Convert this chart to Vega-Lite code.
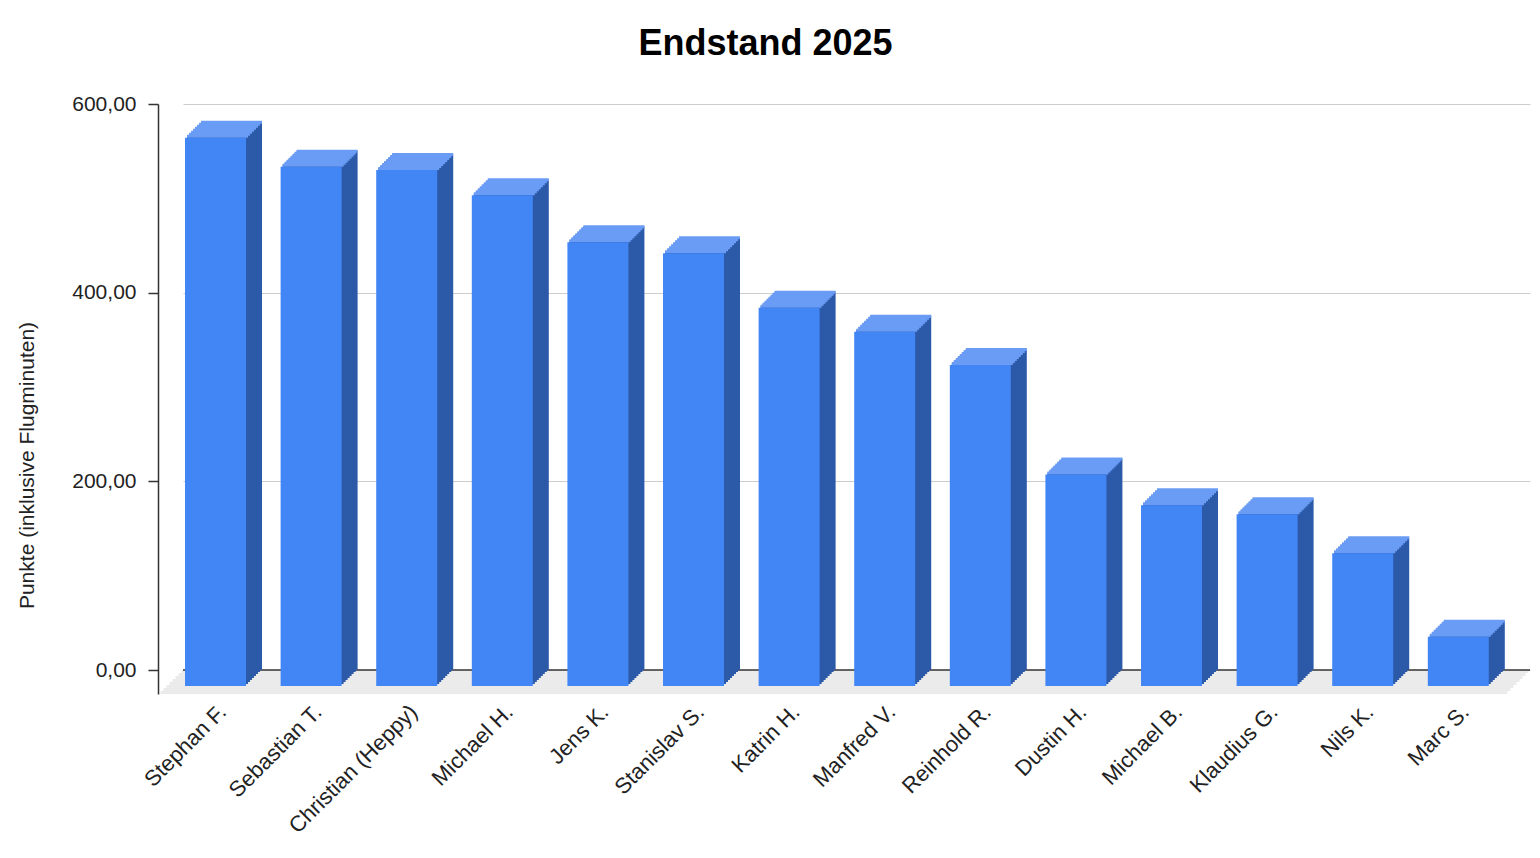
{
  "$schema": "https://vega.github.io/schema/vega-lite/v6.json",
  "width": 1347,
  "height": 590,
  "autosize": {"type": "none"},
  "padding": {"left": 183, "top": 104, "right": 10, "bottom": 164},
  "background": "white",
  "title": {
    "text": "Endstand 2025",
    "fontSize": 36,
    "fontWeight": "bold",
    "color": "#000000",
    "anchor": "middle",
    "frame": "group",
    "dx": -91,
    "offset": 30
  },
  "data": {
    "values": [
      {"name": "Stephan F.", "punkte": 581.3},
      {"name": "Sebastian T.", "punkte": 550.5},
      {"name": "Christian (Heppy)", "punkte": 547.0},
      {"name": "Michael H.", "punkte": 520.2},
      {"name": "Jens K.", "punkte": 470.4},
      {"name": "Stanislav S.", "punkte": 458.7},
      {"name": "Katrin H.", "punkte": 401.1},
      {"name": "Manfred V.", "punkte": 375.4},
      {"name": "Reinhold R.", "punkte": 340.3},
      {"name": "Dustin H.", "punkte": 224.1},
      {"name": "Michael B.", "punkte": 191.5},
      {"name": "Klaudius G.", "punkte": 182.0},
      {"name": "Nils K.", "punkte": 140.7},
      {"name": "Marc S.", "punkte": 52.3}
    ]
  },
  "resolve": {"scale": {"x": "independent"}},
  "layer": [
    {
      "data": {"values": [{}]},
      "encoding": {
        "x": {"datum": 0, "type": "quantitative", "scale": {"domain": [0, 1]}, "axis": null},
        "x2": {"datum": 1},
        "y": {"datum": 0, "type": "quantitative"},
        "y2": {"datum": -3.2}
      },
      "layer": [
        {"mark": {"type": "rect", "color": "#ebebeb", "xOffset": -1.5, "x2Offset": -1.5, "yOffset": 0, "y2Offset": 0}},
        {"mark": {"type": "rect", "color": "#ebebeb", "xOffset": -4.5, "x2Offset": -4.5, "yOffset": 3, "y2Offset": 3}},
        {"mark": {"type": "rect", "color": "#ebebeb", "xOffset": -7.5, "x2Offset": -7.5, "yOffset": 6, "y2Offset": 6}},
        {"mark": {"type": "rect", "color": "#ebebeb", "xOffset": -10.5, "x2Offset": -10.5, "yOffset": 9, "y2Offset": 9}},
        {"mark": {"type": "rect", "color": "#ebebeb", "xOffset": -13.5, "x2Offset": -13.5, "yOffset": 12, "y2Offset": 12}},
        {"mark": {"type": "rect", "color": "#ebebeb", "xOffset": -16.5, "x2Offset": -16.5, "yOffset": 15, "y2Offset": 15}},
        {"mark": {"type": "rect", "color": "#ebebeb", "xOffset": -19.5, "x2Offset": -19.5, "yOffset": 18, "y2Offset": 18}},
        {"mark": {"type": "rect", "color": "#ebebeb", "xOffset": -22.5, "x2Offset": -22.5, "yOffset": 21, "y2Offset": 21}}
      ]
    },
    {
      "data": {"values": [{}]},
      "mark": {"type": "rule", "color": "#333333", "strokeWidth": 1.5},
      "encoding": {"y": {"datum": 0, "type": "quantitative"}}
    },
    {
      "encoding": {
        "x": {
          "field": "name",
          "type": "nominal",
          "sort": null,
          "scale": {"paddingInner": 0.362, "paddingOuter": 0.226, "align": 0.417},
          "axis": {
            "title": null,
            "labelAngle": -45,
            "labelFontSize": 22,
            "labelColor": "#222222",
            "labelOffset": -16,
            "labelPadding": 7,
            "labelLimit": 300,
            "labelOverlap": false,
            "domain": false,
            "ticks": false,
            "grid": false
          }
        },
        "y": {
          "field": "punkte",
          "type": "quantitative",
          "scale": {"domain": [-25.44, 600], "nice": false, "zero": false},
          "axis": {
            "title": "Punkte (inklusive Flugminuten)",
            "values": [0, 200, 400, 600],
            "labelExpr": "replace(format(datum.value, '.2f'), '.', ',')",
            "labelFontSize": 21,
            "labelColor": "#222222",
            "labelPadding": 12,
            "tickSize": 10,
            "tickColor": "#333333",
            "tickWidth": 1.5,
            "domainColor": "#333333",
            "domainWidth": 1.5,
            "offset": 25,
            "grid": true,
            "gridColor": "#cccccc",
            "gridWidth": 1,
            "titleFontSize": 21,
            "titleFontWeight": "normal",
            "titleColor": "#222222",
            "titleAngle": -90,
            "titleX": -131,
            "titleY": 361,
            "titleAlign": "center",
            "titleBaseline": "middle"
          }
        }
      },
      "layer": [
        {
          "encoding": {"y2": {"datum": 0}},
          "layer": [
            {"mark": {"type": "bar", "color": "#2c5aa8", "xOffset": 0, "yOffset": 0, "y2Offset": 0}},
            {"mark": {"type": "bar", "color": "#2c5aa8", "xOffset": -2, "yOffset": 2, "y2Offset": 2}},
            {"mark": {"type": "bar", "color": "#2c5aa8", "xOffset": -4, "yOffset": 4, "y2Offset": 4}},
            {"mark": {"type": "bar", "color": "#2c5aa8", "xOffset": -6, "yOffset": 6, "y2Offset": 6}},
            {"mark": {"type": "bar", "color": "#2c5aa8", "xOffset": -8, "yOffset": 8, "y2Offset": 8}},
            {"mark": {"type": "bar", "color": "#2c5aa8", "xOffset": -10, "yOffset": 10, "y2Offset": 10}},
            {"mark": {"type": "bar", "color": "#2c5aa8", "xOffset": -12, "yOffset": 12, "y2Offset": 12}},
            {"mark": {"type": "bar", "color": "#2c5aa8", "xOffset": -14, "yOffset": 14, "y2Offset": 14}}
          ]
        },
        {"mark": {"type": "tick", "color": "#6a9cf5", "opacity": 1, "size": 61, "thickness": 3, "xOffset": 0, "yOffset": 0.5}},
        {"mark": {"type": "tick", "color": "#6a9cf5", "opacity": 1, "size": 61, "thickness": 3, "xOffset": -2, "yOffset": 2.5}},
        {"mark": {"type": "tick", "color": "#6a9cf5", "opacity": 1, "size": 61, "thickness": 3, "xOffset": -4, "yOffset": 4.5}},
        {"mark": {"type": "tick", "color": "#6a9cf5", "opacity": 1, "size": 61, "thickness": 3, "xOffset": -6, "yOffset": 6.5}},
        {"mark": {"type": "tick", "color": "#6a9cf5", "opacity": 1, "size": 61, "thickness": 3, "xOffset": -8, "yOffset": 8.5}},
        {"mark": {"type": "tick", "color": "#6a9cf5", "opacity": 1, "size": 61, "thickness": 3, "xOffset": -10, "yOffset": 10.5}},
        {"mark": {"type": "tick", "color": "#6a9cf5", "opacity": 1, "size": 61, "thickness": 3, "xOffset": -12, "yOffset": 12.5}},
        {"mark": {"type": "tick", "color": "#6a9cf5", "opacity": 1, "size": 61, "thickness": 3, "xOffset": -14, "yOffset": 14.5}},
        {
          "mark": {"type": "bar", "color": "#4285f4", "xOffset": -16, "yOffset": 16, "y2Offset": 16},
          "encoding": {"y2": {"datum": 0}}
        }
      ]
    }
  ],
  "config": {
    "font": "Liberation Sans",
    "view": {"stroke": null}
  }
}
